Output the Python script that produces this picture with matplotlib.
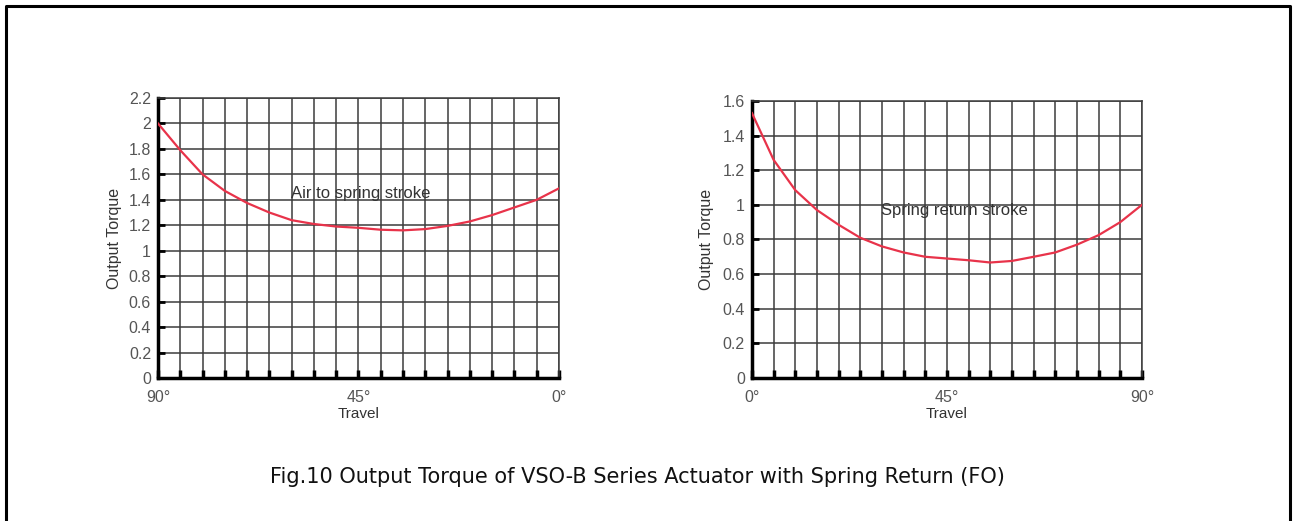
#!/usr/bin/env python3
"""
Output torque curves of a spring return actuator (air stroke and spring stroke).
"""

import matplotlib
matplotlib.use('Agg')
import matplotlib.pyplot as plt
from matplotlib.lines import Line2D

# === DATA ===
# travel positions (degrees), every 5 deg
travel = [0, 5, 10, 15, 20, 25, 30, 35, 40, 45,
          50, 55, 60, 65, 70, 75, 80, 85, 90]

# Air to spring stroke, read from 90 deg (left) to 0 deg (right)
air_travel = [90, 85, 80, 75, 70, 65, 60, 55, 50, 45,
              40, 35, 30, 25, 20, 15, 10, 5, 0]
air_torque = [2.00, 1.79, 1.60, 1.47, 1.375, 1.30, 1.24, 1.21, 1.19, 1.18,
              1.165, 1.16, 1.17, 1.195, 1.23, 1.28, 1.34, 1.40, 1.49]

# Spring return stroke, 0 deg (left) to 90 deg (right)
spring_travel = [0, 5, 10, 15, 20, 25, 30, 35, 40, 45,
                 50, 55, 60, 65, 70, 75, 80, 85, 90]
spring_torque = [1.53, 1.26, 1.085, 0.97, 0.885, 0.81, 0.76, 0.725, 0.70, 0.69,
                 0.68, 0.667, 0.676, 0.70, 0.725, 0.77, 0.825, 0.90, 1.00]

air_yticks = [0, 0.2, 0.4, 0.6, 0.8, 1, 1.2, 1.4, 1.6, 1.8, 2, 2.2]
spring_yticks = [0, 0.2, 0.4, 0.6, 0.8, 1, 1.2, 1.4, 1.6]
labelled = {0: '0°', 45: '45°', 90: '90°'}

caption = 'Fig.10 Output Torque of VSO-B Series Actuator with Spring Return (FO)'

# === FIGURE ===
plt.rcParams['font.family'] = ['Liberation Sans', 'DejaVu Sans']
fig = plt.figure(figsize=(12.96, 5.21), dpi=100)

ax1 = fig.add_axes([0.1219, 0.2745, 0.3094, 0.5374])
ax2 = fig.add_axes([0.5802, 0.2745, 0.3009, 0.5317])

line_red = '#e8334a'
grid_col = '#3c3c3c'
tick_col = '#555555'


def style(ax, yticks, ymax, ylabelpad):
    ax.set_ylim(0, ymax)
    ax.set_yticks(yticks)
    ax.set_yticklabels([('%g' % v) for v in yticks])
    ax.set_xticks(travel)
    ax.set_xticklabels([labelled.get(t, '') for t in travel])
    ax.grid(True, color=grid_col, linewidth=1.1)
    ax.set_axisbelow(True)
    for side in ('top', 'right'):
        ax.spines[side].set_color(grid_col)
        ax.spines[side].set_linewidth(1.1)
    for side in ('left', 'bottom'):
        ax.spines[side].set_color('black')
        ax.spines[side].set_linewidth(2.5)
    ax.tick_params(axis='both', direction='in', colors='black',
                   labelcolor=tick_col, labelsize=11.5)
    ax.tick_params(axis='y', length=5, width=2, pad=5)
    ax.tick_params(axis='x', length=6, width=2.5, pad=9)
    ax.set_xlabel('Travel', fontsize=11, color='#333333', labelpad=1)
    ax.set_ylabel('Output Torque', fontsize=11.5, color='#333333',
                  labelpad=ylabelpad)


# Left: air to spring stroke
ax1.plot(air_travel, air_torque, color=line_red, linewidth=1.6, zorder=3)
ax1.set_xlim(90, 0)
style(ax1, air_yticks, 2.2, 5)
ax1.text(60.2, 1.45, 'Air to spring stroke', fontsize=12, color='#333333',
         va='center', ha='left')

# Right: spring return stroke
ax2.plot(spring_travel, spring_torque, color=line_red, linewidth=1.6, zorder=3)
ax2.set_xlim(0, 90)
style(ax2, spring_yticks, 1.6, 6)
ax2.text(29.7, 0.97, 'Spring return stroke', fontsize=12, color='#333333',
         va='center', ha='left')

# Caption
fig.text(0.4915, 0.085, caption, ha='center', va='center', fontsize=15,
         family='DejaVu Sans', color='#111111')

# Outer frame (bottom edge runs off the image)
frame_x = [6 / 1296, 6 / 1296, 1290 / 1296, 1290 / 1296]
frame_y = [-0.05, 1 - 6 / 521, 1 - 6 / 521, -0.05]
fig.add_artist(Line2D(frame_x, frame_y, transform=fig.transFigure,
                      color='black', linewidth=2.2))

fig.savefig('out.png', dpi=100, facecolor='white')
